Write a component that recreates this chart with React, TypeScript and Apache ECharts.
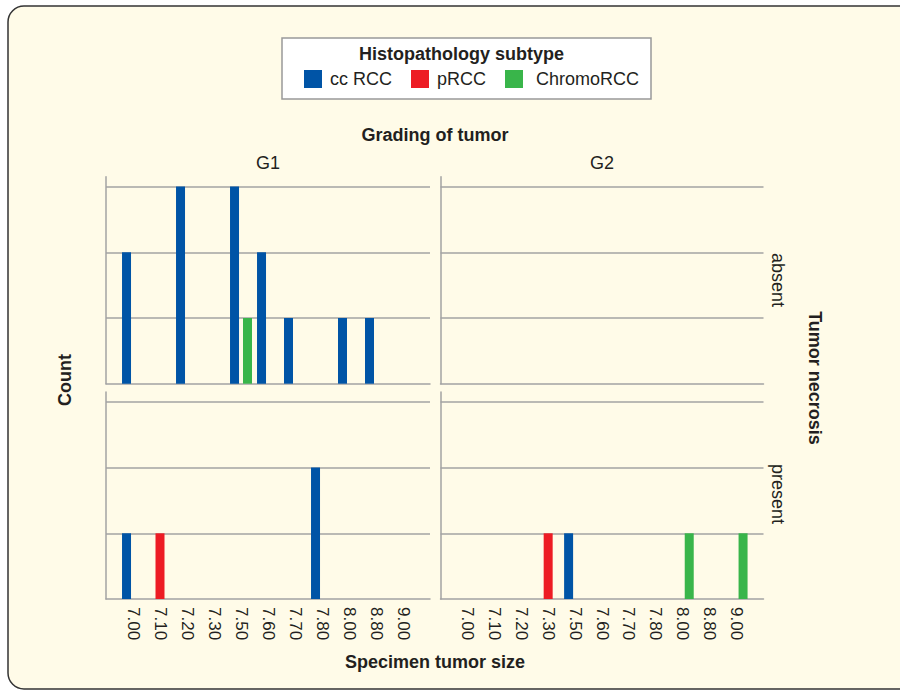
import React, { useEffect, useRef } from "react";
import * as echarts from "echarts";

const sizes = ["7.00", "7.10", "7.20", "7.30", "7.50", "7.60", "7.70", "7.80", "8.00", "8.80", "9.00"];
const subtypes = ["cc RCC", "pRCC", "ChromoRCC"];
const gradeLabels = ["G1", "G2"];
const necrosisLabels = ["absent", "present"];

// counts per panel: [subtype][size]
const g1Absent = [
  [2, 0, 3, 0, 3, 2, 1, 0, 1, 1, 0],
  [0, 0, 0, 0, 0, 0, 0, 0, 0, 0, 0],
  [0, 0, 0, 0, 1, 0, 0, 0, 0, 0, 0],
];
const g2Absent = [
  [0, 0, 0, 0, 0, 0, 0, 0, 0, 0, 0],
  [0, 0, 0, 0, 0, 0, 0, 0, 0, 0, 0],
  [0, 0, 0, 0, 0, 0, 0, 0, 0, 0, 0],
];
const g1Present = [
  [1, 0, 0, 0, 0, 0, 0, 2, 0, 0, 0],
  [0, 1, 0, 0, 0, 0, 0, 0, 0, 0, 0],
  [0, 0, 0, 0, 0, 0, 0, 0, 0, 0, 0],
];
const g2Present = [
  [0, 0, 0, 0, 1, 0, 0, 0, 0, 0, 0],
  [0, 0, 0, 1, 0, 0, 0, 0, 0, 0, 0],
  [0, 0, 0, 0, 0, 0, 0, 0, 1, 0, 1],
];

const colors = ["#0054A6", "#ED1C24", "#39B54A"];
const FONT = "Liberation Sans, Arial, Helvetica, sans-serif";
const GRAY = "#a3a3a3";
const INK = "#231F20";

export default function App() {
  const ref = useRef<HTMLDivElement>(null);

  useEffect(() => {
    if (!ref.current) return;
    const chart = echarts.init(ref.current, null, { renderer: "svg" });

    const panels = [g1Absent, g2Absent, g1Present, g2Present];
    const lefts = [106, 440.5];
    const widths = [324, 323];
    const tops = [176.7, 392];
    const height = 207;

    const grids: any[] = [];
    const xAxes: any[] = [];
    const yAxes: any[] = [];
    const series: any[] = [];
    const axisCats = ["", ...sizes, ""];

    panels.forEach((panel, i) => {
      const col = i % 2;
      const row = Math.floor(i / 2);
      grids.push({ left: lefts[col], top: tops[row], width: widths[col], height });
      xAxes.push({
        type: "category",
        gridIndex: i,
        data: axisCats,
        boundaryGap: false,
        axisLine: { show: true, lineStyle: { color: GRAY, width: 1.5 } },
        axisTick: { show: false },
        splitLine: { show: false },
        axisLabel: {
          show: row === 1,
          interval: 0,
          rotate: -90,
          fontSize: 17,
          color: INK,
          fontFamily: FONT,
          margin: 8,
        },
      });
      yAxes.push({
        type: "value",
        gridIndex: i,
        min: 0,
        max: 3.15,
        interval: 1,
        axisLine: { show: true, lineStyle: { color: GRAY, width: 1.5 } },
        axisTick: { show: false },
        axisLabel: { show: false },
        splitLine: {
          show: true,
          showMaxLine: false,
          showMinLine: false,
          lineStyle: { color: GRAY, width: 1.5 },
        },
      });
      panel.forEach((vals, s) => {
        series.push({
          type: "bar",
          name: subtypes[s],
          xAxisIndex: i,
          yAxisIndex: i,
          data: [null, ...vals.map((v) => (v === 0 ? null : v)), null],
          barWidth: 9,
          barGap: "-28%",
          itemStyle: { color: colors[s] },
          silent: true,
        });
      });
    });

    const textStyle = (extra: any) => ({
      fontFamily: FONT,
      fontSize: 18,
      fill: INK,
      align: "center",
      verticalAlign: "middle",
      ...extra,
    });

    chart.setOption({
      animation: false,
      grid: grids,
      xAxis: xAxes,
      yAxis: yAxes,
      series,
      legend: {
        data: [
          { name: subtypes[0] },
          { name: subtypes[1] },
          { name: subtypes[2], textStyle: { padding: [0, 0, 0, 8] } },
        ],
        left: 304,
        top: 70,
        padding: 0,
        itemWidth: 18,
        itemHeight: 18,
        itemGap: 19,
        icon: "rect",
        selectedMode: false,
        z: 10,
        textStyle: { fontSize: 18, color: INK, fontFamily: FONT, padding: [0, 0, 0, 3] },
      },
      graphic: [
        {
          type: "rect",
          z: -10,
          silent: true,
          shape: { x: 8, y: 6, width: 940, height: 683, r: 16 },
          style: { fill: "#FFFBE8", stroke: "#333", lineWidth: 1.5 },
        },
        {
          type: "rect",
          z: -5,
          silent: true,
          shape: { x: 282, y: 38, width: 369, height: 61 },
          style: { fill: "#ffffff", stroke: "#999", lineWidth: 1.5 },
        },
        {
          type: "text",
          x: 461.5,
          y: 53.5,
          style: textStyle({ text: "Histopathology subtype", fontWeight: "bold" }),
        },
        {
          type: "text",
          x: 435,
          y: 135,
          style: textStyle({ text: "Grading of tumor", fontWeight: "bold" }),
        },
        {
          type: "text",
          x: 268,
          y: 163,
          style: textStyle({ text: gradeLabels[0] }),
        },
        {
          type: "text",
          x: 602,
          y: 163,
          style: textStyle({ text: gradeLabels[1] }),
        },
        {
          type: "text",
          x: 778,
          y: 280,
          rotation: -Math.PI / 2,
          style: textStyle({ text: necrosisLabels[0] }),
        },
        {
          type: "text",
          x: 778,
          y: 494,
          rotation: -Math.PI / 2,
          style: textStyle({ text: necrosisLabels[1] }),
        },
        {
          type: "text",
          x: 815,
          y: 378,
          rotation: -Math.PI / 2,
          style: textStyle({ text: "Tumor necrosis", fontWeight: "bold" }),
        },
        {
          type: "text",
          x: 65,
          y: 380,
          rotation: Math.PI / 2,
          style: textStyle({ text: "Count", fontWeight: "bold" }),
        },
        {
          type: "text",
          x: 435,
          y: 662,
          style: textStyle({ text: "Specimen tumor size", fontWeight: "bold" }),
        },
      ],
    });

    return () => chart.dispose();
  }, []);

  return (
    <div
      ref={ref}
      style={{ position: "absolute", left: 0, top: 0, width: 900, height: 691, background: "#fff" }}
    />
  );
}
